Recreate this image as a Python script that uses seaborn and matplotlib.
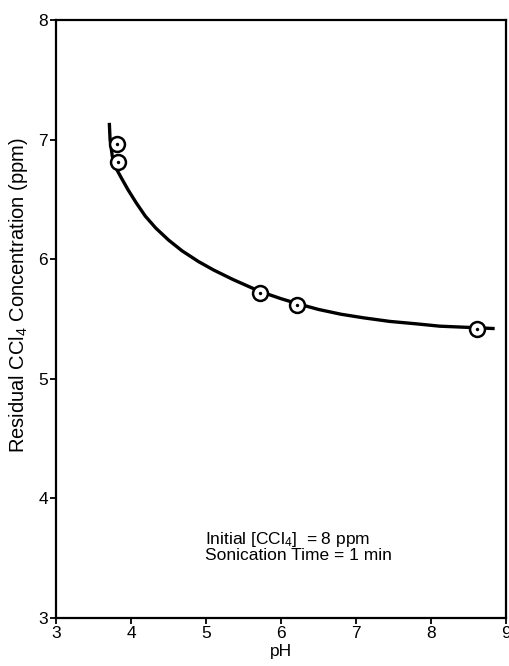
import matplotlib
matplotlib.use("Agg")
import matplotlib.pyplot as plt
import seaborn as sns
import pandas as pd

# Measured residual CCl4 after 1 min sonication
ph_obs = [3.81, 3.83, 5.72, 6.21, 8.61]
ccl4_obs = [6.96, 6.81, 5.72, 5.62, 5.42]

# Fitted trend curve
ph_fit = [3.71, 3.72, 3.75, 3.80, 3.87, 3.96, 4.07, 4.19, 4.33, 4.50, 4.68,
          4.90, 5.10, 5.36, 5.72, 6.00, 6.21, 6.50, 6.80, 7.10, 7.45, 7.80,
          8.12, 8.50, 8.85]
ccl4_fit = [7.14, 7.00, 6.86, 6.76, 6.68, 6.58, 6.47, 6.36, 6.26, 6.16, 6.07,
            5.98, 5.91, 5.83, 5.73, 5.67, 5.63, 5.58, 5.54, 5.51, 5.48, 5.46,
            5.44, 5.43, 5.42]

x_ticks = [3, 4, 5, 6, 7, 8, 9]
y_ticks = [3, 4, 5, 6, 7, 8]

sns.set_style("ticks")
plt.rcParams["font.family"] = ["Liberation Sans", "DejaVu Sans"]
plt.rcParams["mathtext.fontset"] = "custom"
plt.rcParams["mathtext.rm"] = "Liberation Sans"
plt.rcParams["mathtext.it"] = "Liberation Sans"
plt.rcParams["text.color"] = "black"
plt.rcParams["axes.labelcolor"] = "black"

fig = plt.figure(figsize=(5.10, 6.66), dpi=100)
ax = fig.add_axes([0.110, 0.072, 0.882, 0.898])

fit = pd.DataFrame({"pH": ph_fit, "ccl4": ccl4_fit})
obs = pd.DataFrame({"pH": ph_obs, "ccl4": ccl4_obs})

sns.lineplot(data=fit, x="pH", y="ccl4", ax=ax, color="black", lw=2.4,
             sort=False, estimator=None, solid_joinstyle="round",
             solid_capstyle="butt")
sns.scatterplot(data=obs, x="pH", y="ccl4", ax=ax, s=115, facecolor="white",
                edgecolor="black", linewidth=1.8, zorder=3)
sns.scatterplot(data=obs, x="pH", y="ccl4", ax=ax, s=6, color="black",
                linewidth=0, zorder=4)

ax.set_xlim(3, 9)
ax.set_ylim(3, 8)
ax.set_xticks(x_ticks)
ax.set_yticks(y_ticks)
ax.set_xticklabels([str(v) for v in x_ticks])
ax.set_yticklabels([str(v) for v in y_ticks])
ax.tick_params(direction="out", length=4, width=1.3, labelsize=12.5,
               colors="black", pad=2)

for side in ["left", "bottom", "right", "top"]:
    ax.spines[side].set_visible(True)
    ax.spines[side].set_linewidth(1.6)
    ax.spines[side].set_color("black")

ax.set_xlabel("pH", fontsize=12.5, labelpad=2)
ax.set_ylabel("Residual CCl$_4$ Concentration (ppm)", fontsize=14.5)
ax.yaxis.set_label_coords(-0.058, 0.54)

ax.text(4.98, 3.74, "Initial [CCl$_4$]  = 8 ppm\nSonication Time = 1 min",
        fontsize=12.5, va="top", ha="left", linespacing=0.95)

fig.savefig("out.png", dpi=100)
